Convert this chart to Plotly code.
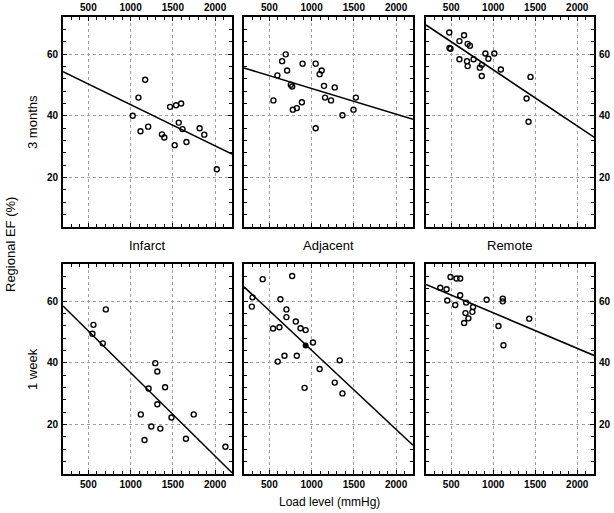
import plotly.graph_objects as go

W, H = 614, 513

# ---------------- data ----------------
panels = ["Infarct", "Adjacent", "Remote"]
rows = ["3 months", "1 week"]

# 3 months
inf3_x = [1025, 1093, 1172, 1117, 1208, 1371, 1399, 1467, 1538, 1598, 1570, 1614, 1522, 1661, 1817, 1872, 2020]
inf3_y = [40.0, 45.9, 51.7, 35.0, 36.5, 34.0, 33.0, 42.9, 43.4, 44.0, 37.8, 35.7, 30.5, 31.5, 36.0, 33.9, 22.7]
adj3_x = [694, 651, 710, 595, 754, 770, 548, 893, 1048, 1119, 1095, 1147, 1274, 1159, 1230, 885, 778, 825, 1365, 1496, 1524, 1048]
adj3_y = [59.9, 57.7, 54.7, 53.1, 50.1, 49.5, 45.0, 56.9, 56.9, 54.7, 53.5, 49.7, 49.2, 45.9, 45.0, 44.4, 42.0, 42.5, 40.2, 42.0, 45.9, 36.0]
rem3_x = [477, 480, 492, 598, 653, 696, 723, 598, 688, 696, 766, 841, 864, 864, 907, 943, 1013, 1091, 1444, 1397, 1421]
rem3_y = [67.0, 62.0, 61.7, 64.2, 66.1, 63.3, 62.7, 58.3, 57.7, 56.1, 58.3, 55.6, 56.5, 52.9, 60.2, 58.5, 60.2, 55.0, 52.6, 45.6, 38.1]

# 1 week
inf1_x = [560, 548, 671, 707, 1292, 1316, 1213, 1408, 1316, 1121, 1484, 1747, 1245, 1352, 1165, 1655, 2122]
inf1_y = [52.3, 49.4, 46.3, 57.3, 39.9, 37.2, 31.7, 32.1, 26.6, 23.3, 22.3, 23.3, 19.4, 18.7, 15.0, 15.4, 12.8]
adj1_x = [421, 770, 301, 293, 631, 702, 702, 813, 544, 619, 869, 929, 1016, 599, 679, 825, 1333, 1095, 1274, 917, 1365]
adj1_y = [67.1, 68.1, 61.2, 58.2, 60.6, 57.3, 54.8, 53.4, 51.1, 51.5, 51.2, 50.6, 46.6, 40.4, 42.3, 42.3, 40.8, 38.0, 33.6, 31.9, 30.1]
adj1_filled_x = [929]
adj1_filled_y = [45.6]
rem1_x = [492, 563, 607, 370, 445, 607, 453, 548, 678, 760, 752, 670, 705, 654, 922, 1114, 1114, 1063, 1122, 1429]
rem1_y = [67.8, 67.3, 67.3, 64.3, 63.8, 61.9, 60.2, 58.7, 59.5, 58.1, 56.5, 56.1, 54.4, 52.9, 60.4, 60.8, 59.9, 51.9, 45.7, 54.3]

# regression line end points (at load 200 and 2200)
fit_x = [200, 2200]
fit3_y = [[54.3, 27.6], [55.5, 38.9], [69.4, 33.1]]
fit1_y = [[58.4, 4.4], [64.6, 13.3], [65.4, 42.4]]

x_ticks = [500, 1000, 1500, 2000]
y_ticks = [20, 40, 60]
x_range = [200, 2200]
y_range = [4, 72]

# ---------------- layout geometry ----------------
col_px = [(63, 232), (244, 413), (426, 594)]
row_px = [(17, 227), (264, 474)]

FONT = "Liberation Sans, Arial, sans-serif"

fig = go.Figure()

scatter_data = [
    [(inf3_x, inf3_y), (adj3_x, adj3_y), (rem3_x, rem3_y)],
    [(inf1_x, inf1_y), (adj1_x, adj1_y), (rem1_x, rem1_y)],
]
fits = [fit3_y, fit1_y]

layout = dict(
    width=W, height=H,
    margin=dict(l=0, r=0, t=0, b=0),
    paper_bgcolor="white", plot_bgcolor="white",
    showlegend=False,
    font=dict(family=FONT, color="black"),
)

idx = 0
for r in range(2):
    for c in range(3):
        idx += 1
        xa = "x" if idx == 1 else f"x{idx}"
        ya = "y" if idx == 1 else f"y{idx}"
        xs, ys = scatter_data[r][c]
        fig.add_trace(go.Scatter(
            x=fit_x, y=fits[r][c], mode="lines",
            line=dict(color="black", width=1.6),
            xaxis=xa, yaxis=ya, hoverinfo="skip"))
        fig.add_trace(go.Scatter(
            x=xs, y=ys, mode="markers",
            marker=dict(symbol="circle-open", size=5, color="black",
                        line=dict(width=1.4, color="black")),
            xaxis=xa, yaxis=ya))
        if r == 1 and c == 1:
            fig.add_trace(go.Scatter(
                x=adj1_filled_x, y=adj1_filled_y, mode="markers",
                marker=dict(symbol="circle", size=6, color="black"),
                xaxis=xa, yaxis=ya))

        x0, x1 = col_px[c]
        y0, y1 = row_px[r]
        xdom = [x0 / W, x1 / W]
        ydom = [1 - y1 / H, 1 - y0 / H]
        xkey = "xaxis" if idx == 1 else f"xaxis{idx}"
        ykey = "yaxis" if idx == 1 else f"yaxis{idx}"
        layout[xkey] = dict(
            domain=xdom, range=x_range, anchor=ya,
            tickvals=x_ticks, ticktext=[f"<b>{v}</b>" for v in x_ticks],
            side="top" if r == 0 else "bottom",
            showline=True, linecolor="black", linewidth=2, mirror="allticks",
            ticks="inside", ticklen=4, tickwidth=1, tickcolor="black",
            minor=dict(dtick=100, tick0=0, ticks="inside", ticklen=3,
                       tickwidth=1, tickcolor="black", showgrid=False),
            showgrid=True, gridcolor="#a0a0a0", griddash="dot", gridwidth=1,
            zeroline=False, fixedrange=True,
            tickfont=dict(family=FONT, size=10, color="black"),
            ticklabelstandoff=0,
        )
        layout[ykey] = dict(
            domain=ydom, range=y_range, anchor=xa,
            tickvals=y_ticks, ticktext=[f"<b>{v}</b>" for v in y_ticks],
            side="left" if c == 0 else "right",
            showticklabels=(c != 1),
            showline=True, linecolor="black", linewidth=2, mirror="allticks",
            ticks="inside", ticklen=4, tickwidth=1, tickcolor="black",
            minor=dict(dtick=4, tick0=0, ticks="inside", ticklen=3,
                       tickwidth=1, tickcolor="black", showgrid=False),
            showgrid=True, gridcolor="#a0a0a0", griddash="dot", gridwidth=1,
            zeroline=False, fixedrange=True,
            tickfont=dict(family=FONT, size=10, color="black"),
            ticklabelstandoff=1,
        )

annotations = []
def ann(text, x, y, size, angle=0):
    annotations.append(dict(
        text=text, x=x / W, y=1 - y / H, xref="paper", yref="paper",
        showarrow=False, textangle=angle, xanchor="center", yanchor="middle",
        font=dict(family=FONT, size=size, color="black")))

for c, name in enumerate(panels):
    ann(name, (col_px[c][0] + col_px[c][1]) / 2, 245, 13)
ann(rows[0], 32, 122, 13, -90)
ann(rows[1], 32, 369, 13, -90)
ann("Regional EF (%)", 10, 245, 13, -90)
ann("Load level (mmHg)", 329, 502, 12)
layout["annotations"] = annotations

fig.update_layout(**layout)
fig.write_html(
    "out.html",
    config={"displayModeBar": False},
    post_script="document.body.style.margin='0px';document.body.style.overflow='hidden';",
)
